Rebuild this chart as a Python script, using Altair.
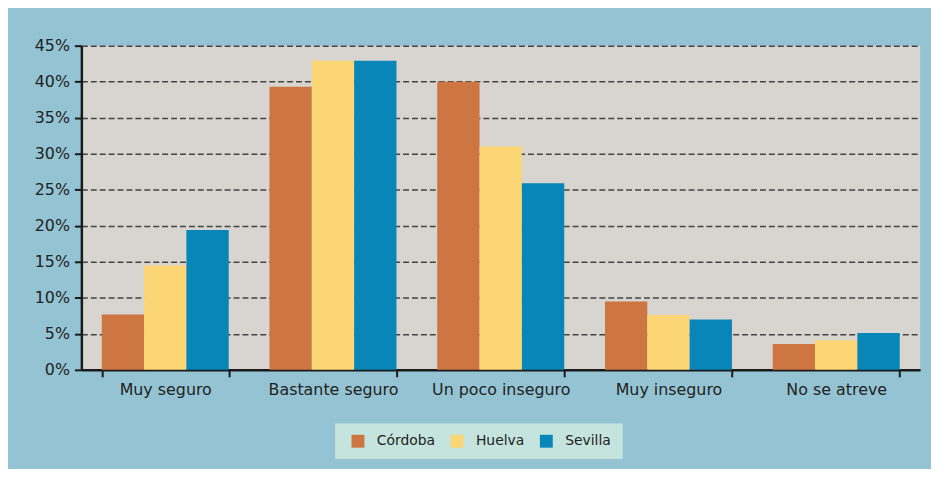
import altair as alt
import pandas as pd

categories = ["Muy seguro", "Bastante seguro", "Un poco inseguro", "Muy inseguro", "No se atreve"]
cities = ["Córdoba", "Huelva", "Sevilla"]
cordoba = [7.7, 39.3, 40.0, 9.5, 3.6]
huelva = [14.5, 42.9, 31.0, 7.6, 4.1]
sevilla = [19.4, 42.9, 25.9, 7.0, 5.1]
colors = ["#cd7642", "#fcd574", "#0986b8"]
y_ticks = [0, 0.05, 0.10, 0.15, 0.20, 0.25, 0.30, 0.35, 0.40, 0.45]

rows = []
for city, vals in zip(cities, [cordoba, huelva, sevilla]):
    for cat, v in zip(categories, vals):
        rows.append({"categoria": cat, "ciudad": city, "valor": v / 100})
df = pd.DataFrame(rows)

FONT = "DejaVu Sans"

chart = alt.Chart(df).mark_bar().encode(
    x=alt.X(
        "categoria:N",
        sort=categories,
        scale=alt.Scale(paddingInner=0.243, paddingOuter=0.1215),
        axis=alt.Axis(
            title=None, labelAngle=0, labelFont=FONT, labelFontSize=16, labelColor="#222222",
            domainColor="#1a1a1a", domainWidth=2.5, tickColor="#1a1a1a", tickWidth=2,
            tickSize=7, tickBand="extent", labelPadding=5, grid=False,
        ),
    ),
    xOffset=alt.XOffset("ciudad:N", sort=cities, scale=alt.Scale(paddingInner=0, paddingOuter=0)),
    y=alt.Y(
        "valor:Q",
        scale=alt.Scale(domain=[0, 0.45], nice=False),
        axis=alt.Axis(
            title=None, format=".0%", values=y_ticks, labelFont=FONT, labelFontSize=16,
            labelColor="#222222", domainColor="#1a1a1a", domainWidth=2.5, tickColor="#1a1a1a",
            tickWidth=2, tickSize=7, labelPadding=5, grid=True, gridColor="#444444",
            gridDash=[6, 3], gridWidth=1.5,
        ),
    ),
    color=alt.Color(
        "ciudad:N",
        sort=cities,
        scale=alt.Scale(domain=cities, range=colors),
        legend=alt.Legend(
            title=None, orient="none", legendX=256, legendY=381, direction="horizontal",
            fillColor="#c5e4de", padding=11, symbolOffset=5, symbolType="square",
            symbolSize=169, symbolStrokeWidth=0, labelFont=FONT, labelFontSize=14,
            labelColor="#222222", labelOffset=12, columnPadding=10,
        ),
    ),
).properties(
    width=846,
    height=327,
    autosize=alt.AutoSizeParams(type="none"),
    padding={"left": 74, "top": 36, "right": 11, "bottom": 98},
    background="#94c4d3",
).configure_view(fill="#d8d4cf", stroke=None)

chart.save("out.html", embed_options={"renderer": "svg", "actions": False})
